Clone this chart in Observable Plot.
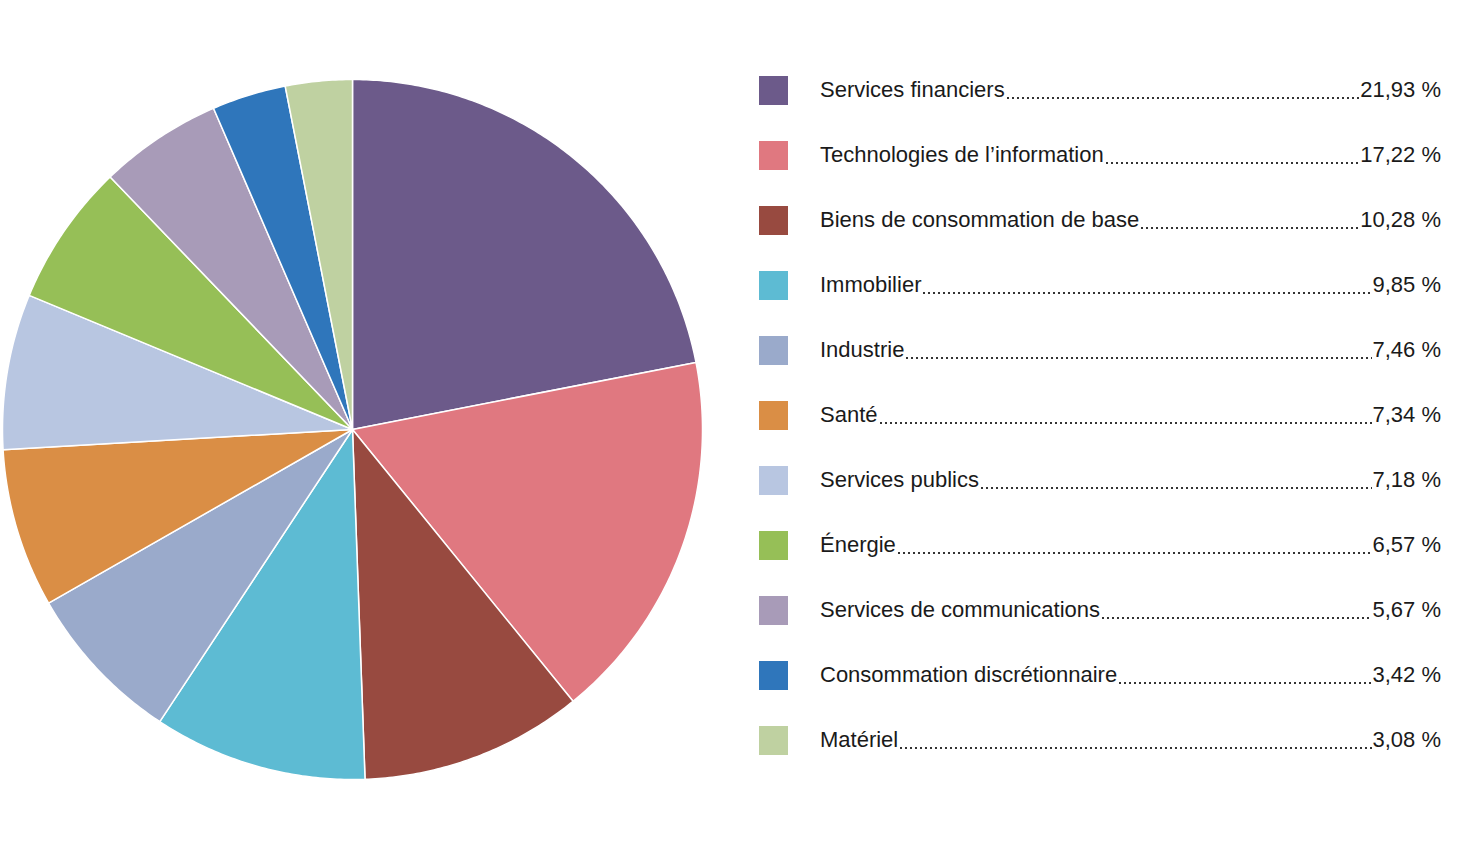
<!DOCTYPE html>
<html>
<head>
<meta charset="utf-8">
<script src="https://cdn.jsdelivr.net/npm/d3@7"></script>
<script src="https://cdn.jsdelivr.net/npm/@observablehq/plot@0.6"></script>
<style>
  html, body { margin: 0; padding: 0; background: #fff; }
  #wrap { position: relative; width: 1471px; height: 843px; overflow: hidden; }
  #chart svg { display: block; }
  #legend { position: absolute; left: 759px; top: 0; width: 682px; font-family: "Liberation Sans", Arial, sans-serif; font-size: 22px; color: #1a1a1a; }
  .row { position: absolute; left: 0; width: 682px; height: 30px; display: flex; align-items: center; }
  .sw { width: 29px; height: 29px; flex: none; margin-right: 32px; }
  .lab { flex: none; white-space: nowrap; }
  .dots { flex: 1 1 auto; height: 24px; margin: 0 1px;
          background-image: radial-gradient(circle at 2px 20px, #333 1px, rgba(255,255,255,0) 1.4px);
          background-size: 5px 24px; background-repeat: repeat-x; }
  .val { flex: none; white-space: nowrap; }
</style>
</head>
<body>
<div id="wrap">
  <div id="chart"></div>
  <div id="legend"></div>
</div>
<script>
const categories = [
  "Services financiers",
  "Technologies de l’information",
  "Biens de consommation de base",
  "Immobilier",
  "Industrie",
  "Santé",
  "Services publics",
  "Énergie",
  "Services de communications",
  "Consommation discrétionnaire",
  "Matériel"
];
const values = [21.93, 17.22, 10.28, 9.85, 7.46, 7.34, 7.18, 6.57, 5.67, 3.42, 3.08];
const valueLabels = ["21,93 %", "17,22 %", "10,28 %", "9,85 %", "7,46 %", "7,34 %", "7,18 %", "6,57 %", "5,67 %", "3,42 %", "3,08 %"];
const colors = ["#6c5a8a", "#e07880", "#984a40", "#5dbbd3", "#9aaacb", "#da8e45", "#b8c6e1", "#96bf57", "#a89bb8", "#2f76bb", "#bfd1a1"];

// Build slice polygons (unit circle, clockwise from top) from the values
const total = d3.sum(values);
const pts = [];
let start = 0;
categories.forEach((c, i) => {
  const a0 = start / total * 2 * Math.PI;
  const a1 = (start + values[i]) / total * 2 * Math.PI;
  start += values[i];
  pts.push({cat: c, x: 0, y: 0});
  const n = Math.max(2, Math.ceil((a1 - a0) / 0.01));
  for (let k = 0; k <= n; k++) {
    const a = a0 + (a1 - a0) * k / n;
    pts.push({cat: c, x: Math.sin(a), y: Math.cos(a)});
  }
});

const plot = Plot.plot({
  width: 1471,
  height: 843,
  marginLeft: 2,
  marginRight: 769,
  marginTop: 79,
  marginBottom: 64,
  x: {domain: [-1, 1], axis: null},
  y: {domain: [-1, 1], axis: null},
  color: {domain: categories, range: colors},
  marks: [
    Plot.line(pts, {x: "x", y: "y", z: "cat", fill: "cat", stroke: "white", strokeWidth: 1.5, curve: "linear-closed"})
  ]
});
document.getElementById("chart").appendChild(plot);

const legend = document.getElementById("legend");
categories.forEach((c, i) => {
  const row = document.createElement("div");
  row.className = "row";
  row.style.top = (90 + i * 65 - 15) + "px";
  row.innerHTML = `<div class="sw" style="background:${colors[i]}"></div><span class="lab">${c}</span><span class="dots"></span><span class="val">${valueLabels[i]}</span>`;
  legend.appendChild(row);
});
</script>
</body>
</html>
